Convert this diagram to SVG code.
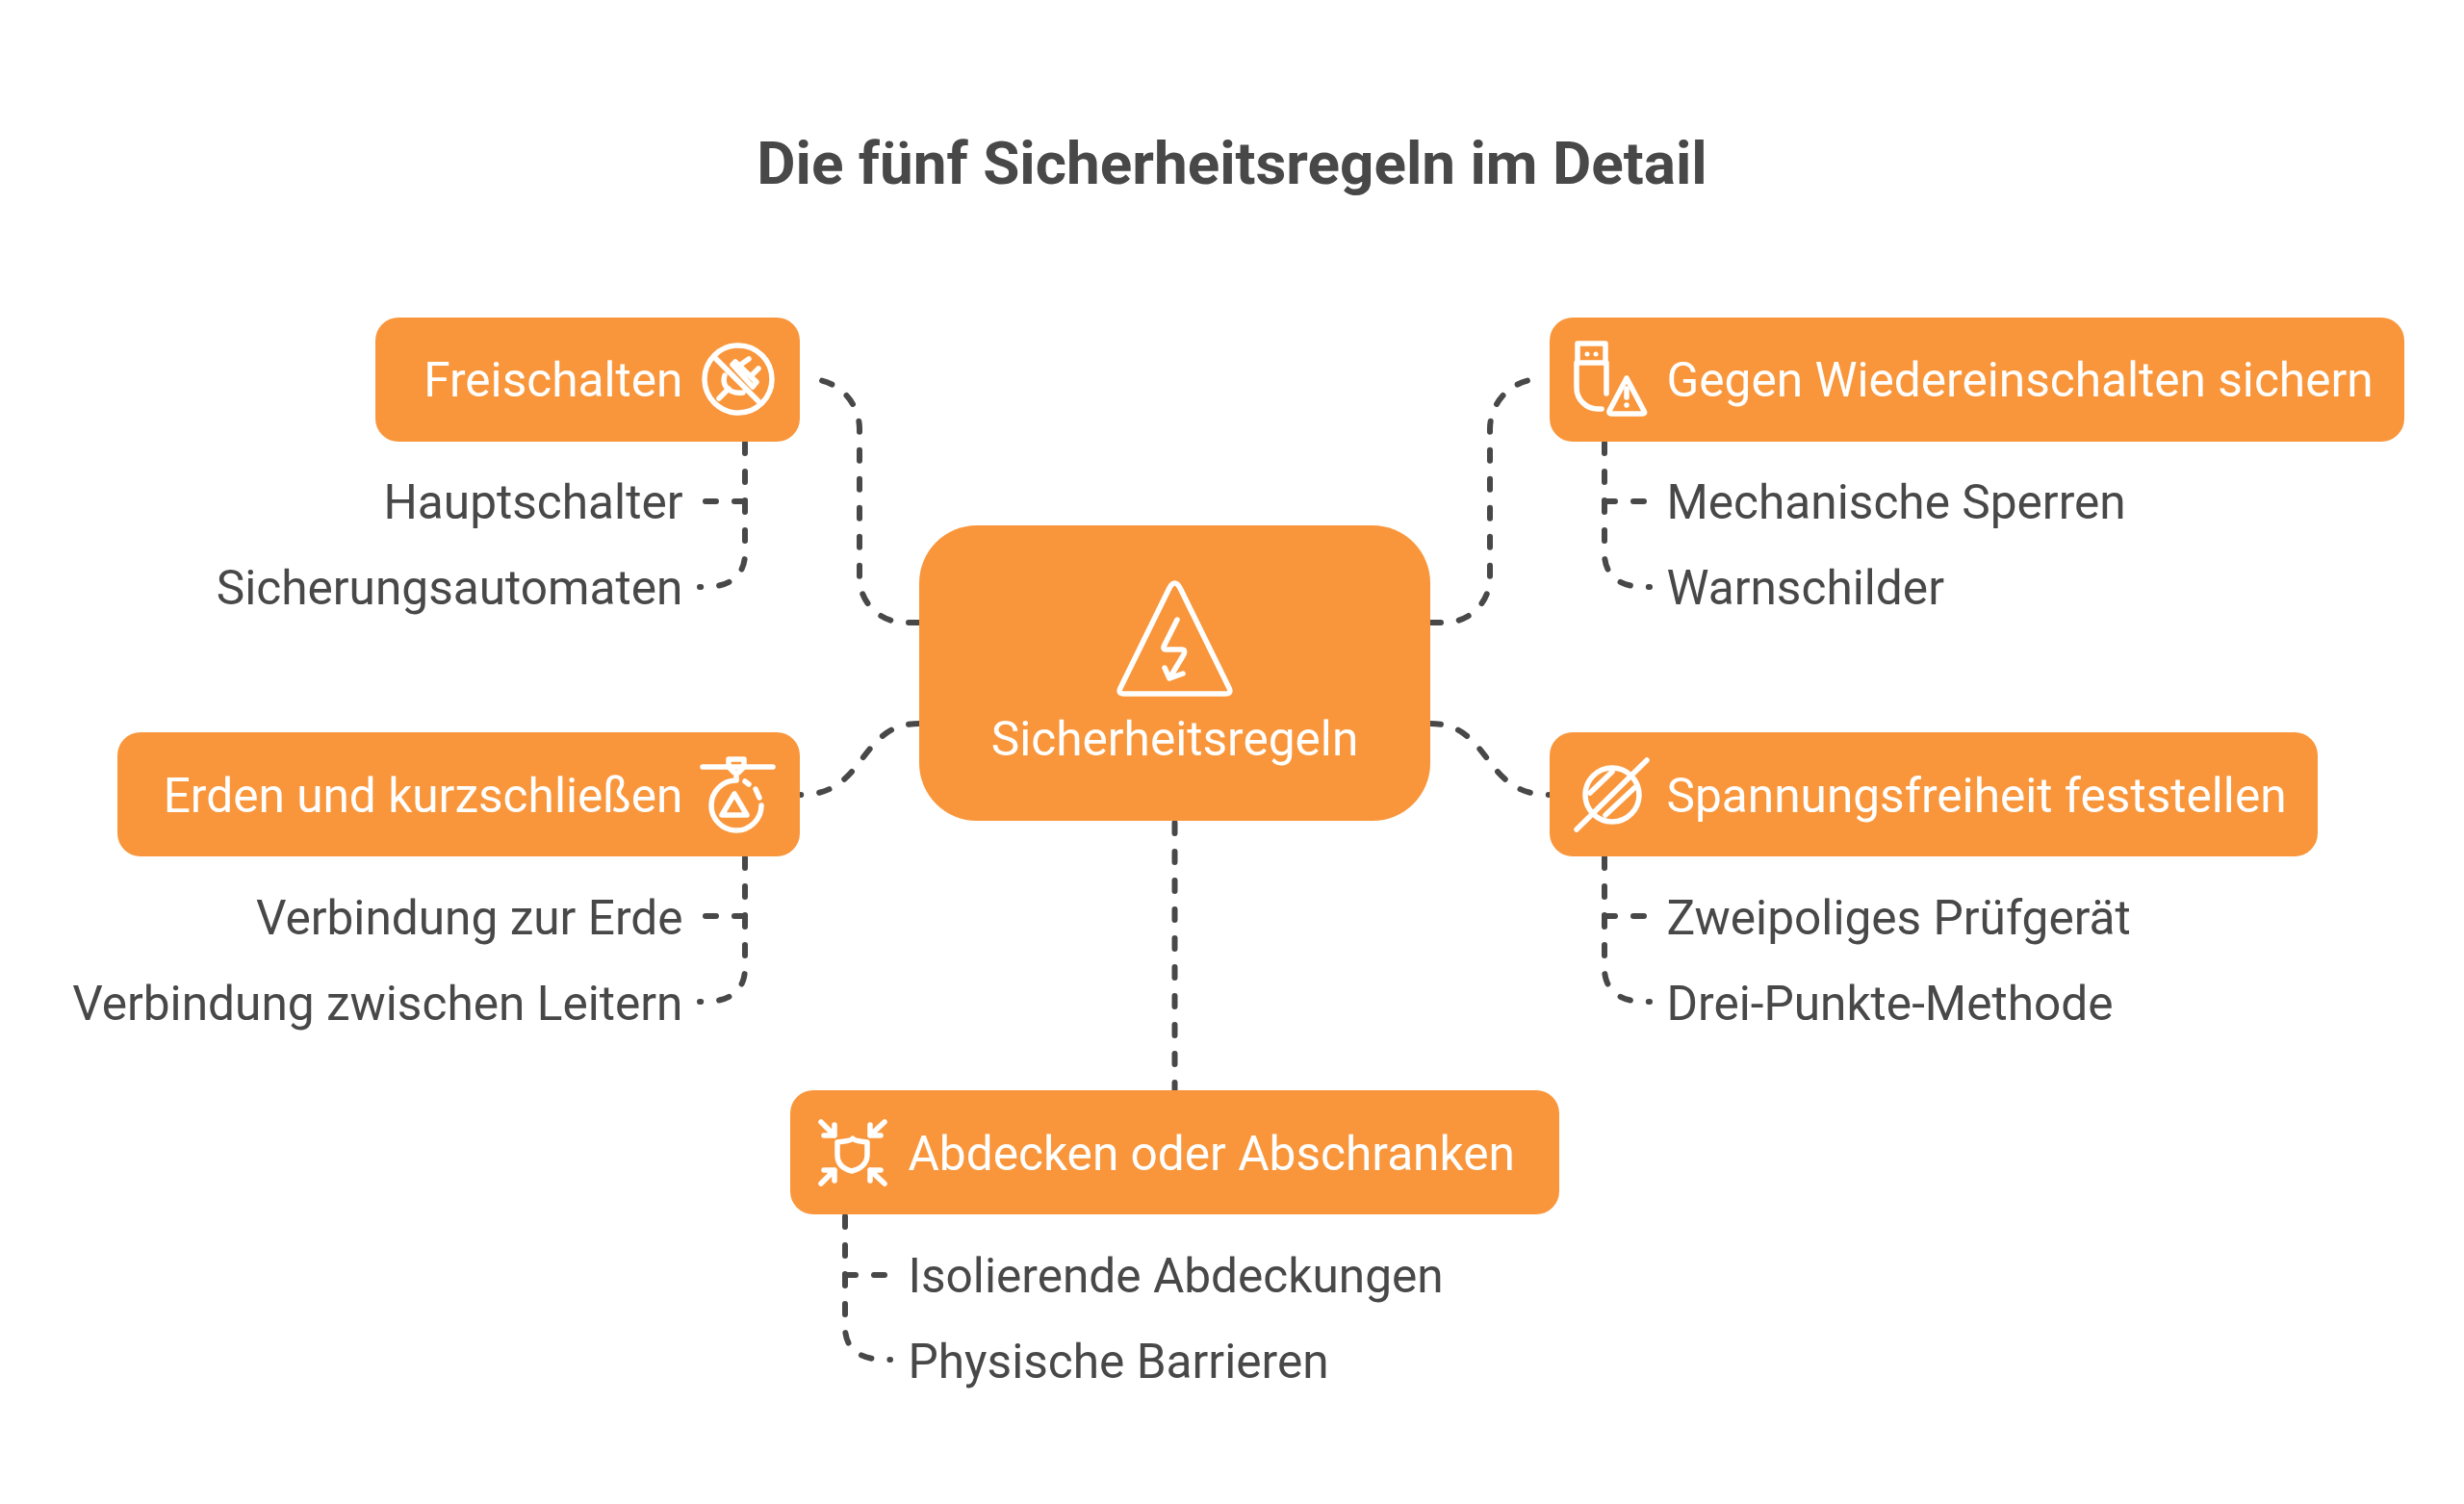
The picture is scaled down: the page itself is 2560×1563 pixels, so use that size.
<svg xmlns="http://www.w3.org/2000/svg" width="2560" height="1563" viewBox="0 0 2560 1563">
<style>
.box{fill:#f9963b}
.t{font-family:Roboto,"Liberation Sans",sans-serif;font-size:49.6px}
.w{fill:#fff}
.d{fill:#484848}
.title{font-family:Roboto,"Liberation Sans",sans-serif;font-size:62px;font-weight:700;fill:#484848}
.c{fill:none;stroke:#484848;stroke-width:6;stroke-linecap:round;stroke-linejoin:round;stroke-dasharray:11 19}
.i{fill:none;stroke:#fff;stroke-width:5.5;stroke-linecap:round;stroke-linejoin:round}
</style>
<rect width="2560" height="1563" fill="#fff"/>
<text id="title" class="title" x="1280" y="191" text-anchor="middle">Die fünf Sicherheitsregeln im Detail</text>
<g id="connectors">
<path class="c" d="M955 647H940A47 47 0 0 1 893 600V446A52 52 0 0 0 841 394"/>
<path class="c" d="M1486 647H1501A47 47 0 0 0 1548 600V446A52 52 0 0 1 1600 394"/>
<path class="c" d="M955 752C891 752 901 826 832 826"/>
<path class="c" d="M1486 752C1550 752 1540 826 1609 826"/>
<path class="c" d="M1220.5 855V1133"/>
<path class="c" d="M774 460V521"/><path class="c" d="M774 521H730"/>
<path class="c" d="M774 521V575C774 600 756 610 733 610H727"/>
<path class="c" d="M774 891V952"/><path class="c" d="M774 952H730"/>
<path class="c" d="M774 952V1006C774 1031 756 1041 733 1041H727"/>
<path class="c" d="M1667 460V521"/><path class="c" d="M1667 521H1711"/>
<path class="c" d="M1667 521V575C1667 600 1685 610 1708 610H1714"/>
<path class="c" d="M1667 891V952"/><path class="c" d="M1667 952H1711"/>
<path class="c" d="M1667 952V1006C1667 1031 1685 1041 1708 1041H1714"/>
<path class="c" d="M878 1264V1325"/><path class="c" d="M878 1325H922"/>
<path class="c" d="M878 1325V1379C878 1404 896 1413 919 1413H925"/>
</g>
<g id="center">
<rect class="box" x="955" y="546" width="531" height="307" rx="60"/>
<path class="i" d="M1215 611L1164 715Q1161 721 1168 721H1273Q1280 721 1277 715L1226 611Q1220.5 601 1215 611Z"/>
<path class="i" d="M1223 644L1209 672Q1208 675 1212 675H1228Q1232 675 1230 680L1215 705M1210 694L1215 705L1229 700"/>
<text class="t w" x="1220.5" y="785" text-anchor="middle">Sicherheitsregeln</text>
</g>
<g id="n1">
<rect class="box" x="390" y="330" width="441" height="129" rx="24"/>
<text class="t w" x="709.5" y="412" text-anchor="end">Freischalten</text>
<circle class="i" cx="767" cy="394" r="35"/>
<path class="i" d="M743 372L788 417M761 379L764 376L786 397L782 402ZM768 380L778 373M780 391L788 383M753 390C749 402 760 410 772 408M747 414L757 404"/>
</g>
<g id="s1a"><text class="t d" x="709.5" y="539" text-anchor="end">Hauptschalter</text></g>
<g id="s1b"><text class="t d" x="709.5" y="628" text-anchor="end">Sicherungsautomaten</text></g>
<g id="n2">
<rect class="box" x="1610" y="330" width="888" height="129" rx="24"/>
<text class="t w" x="1731.5" y="412">Gegen Wiedereinschalten sichern</text>
<path class="i" d="M1639 377V357H1668V377M1669 409V377H1638V403A22 22 0 0 0 1660 425H1664"/>
<circle cx="1649" cy="368" r="2.5" fill="#fff"/><circle cx="1658" cy="368" r="2.5" fill="#fff"/>
<path class="i" d="M1690 393L1672 427Q1671 430 1675 430H1706Q1710 430 1708 427Z"/>
<path class="i" d="M1690 404V413M1690 421V421"/>
</g>
<g id="s2a"><text class="t d" x="1731.5" y="539">Mechanische Sperren</text></g>
<g id="s2b"><text class="t d" x="1731.5" y="628">Warnschilder</text></g>
<g id="n3">
<rect class="box" x="122" y="761" width="709" height="129" rx="24"/>
<text class="t w" x="709.5" y="844" text-anchor="end">Erden und kurzschließen</text>
<path class="i" d="M730 797H803M757 789H773V797L767 803H763L757 797ZM765 803V810"/>
<path class="i" d="M765 811A26 26 0 1 0 791 837M774 812L778 815M785 820L789 829"/>
<path class="i" d="M763 825L750 847H776Z"/>
</g>
<g id="s3a"><text class="t d" x="709.5" y="971" text-anchor="end">Verbindung zur Erde</text></g>
<g id="s3b"><text class="t d" x="709.5" y="1060" text-anchor="end">Verbindung zwischen Leitern</text></g>
<g id="n4">
<rect class="box" x="1610" y="761" width="798" height="129" rx="24"/>
<text class="t w" x="1731.5" y="844">Spannungsfreiheit feststellen</text>
<circle class="i" cx="1675" cy="826" r="28"/>
<path class="i" d="M1638 862L1711 790M1652 824L1675 802M1668 847L1699 818"/>
</g>
<g id="s4a"><text class="t d" x="1731.5" y="971">Zweipoliges Prüfgerät</text></g>
<g id="s4b"><text class="t d" x="1731.5" y="1060">Drei-Punkte-Methode</text></g>
<g id="n5">
<rect class="box" x="821" y="1133" width="799" height="129" rx="24"/>
<text class="t w" x="943.5" y="1216">Abdecken oder Abschranken</text>
<path class="i" d="M870 1187Q885 1186 886 1183Q887 1186 901 1187V1200C901 1210 893 1215 885 1217C877 1215 870 1210 870 1200Z"/>
<path class="i" d="M853 1166L867 1180M856 1180H867V1169M919 1166L904 1180M904 1169V1180H915M853 1230L867 1216M856 1216H867V1227M919 1230L904 1216M904 1227V1216H915"/>
</g>
<g id="s5a"><text class="t d" x="943.5" y="1343">Isolierende Abdeckungen</text></g>
<g id="s5b"><text class="t d" x="943.5" y="1432">Physische Barrieren</text></g>
</svg>
